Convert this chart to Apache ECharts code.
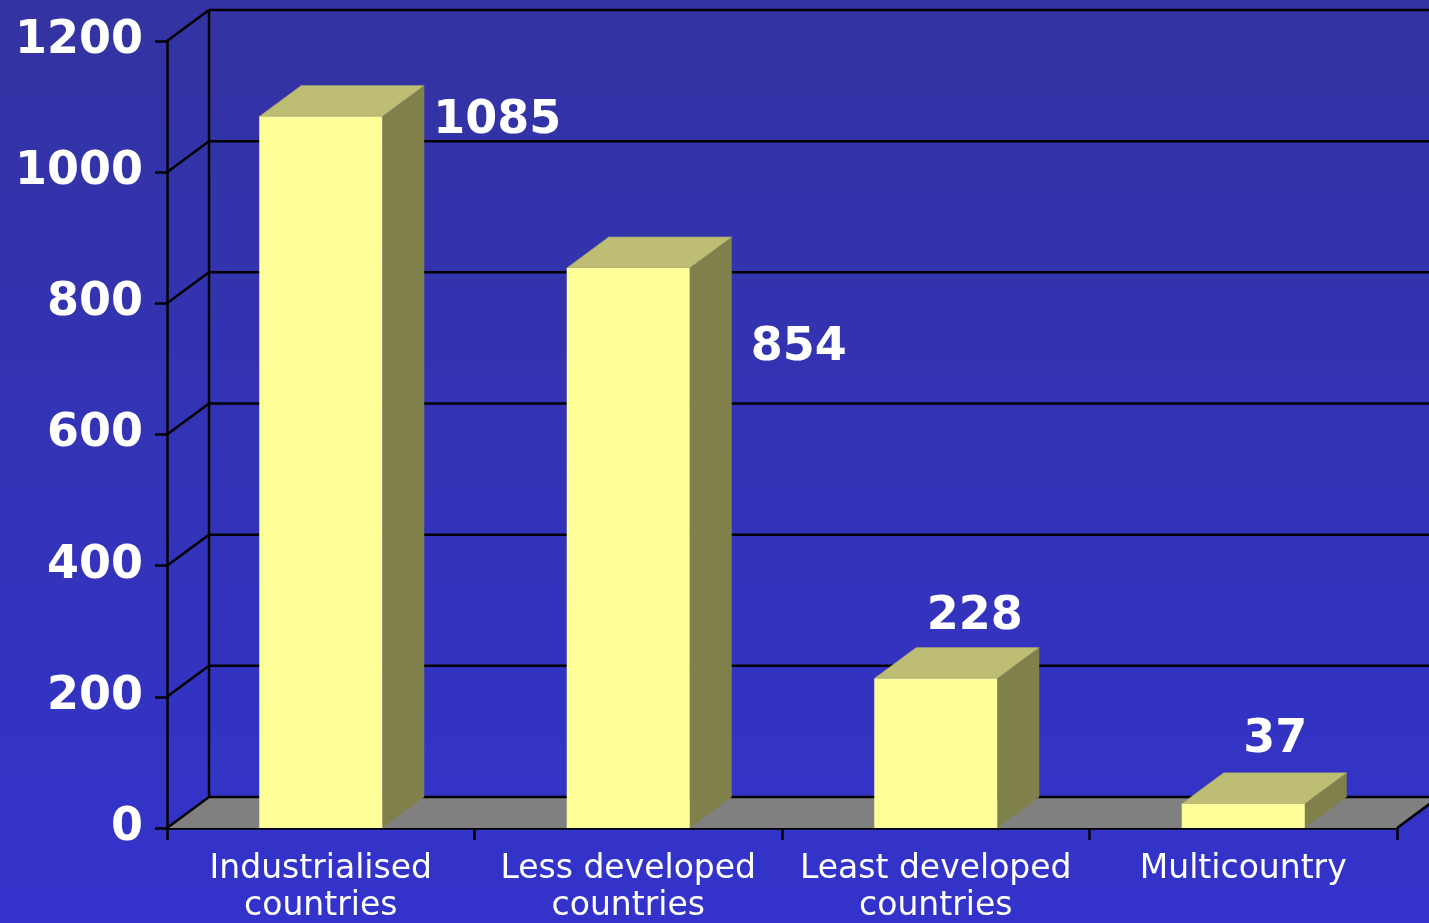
<!DOCTYPE html>
<html>
<head>
<meta charset="utf-8">
<script src="https://cdn.jsdelivr.net/npm/echarts@6/dist/echarts.min.js"></script>
<style>
html,body{margin:0;padding:0;}
#chart{width:1429px;height:923px;}
</style>
</head>
<body>
<div id="chart"></div>
<script>
// ---- data ----
var categories = ['Industrialised\ncountries', 'Less developed\ncountries', 'Least developed\ncountries', 'Multicountry'];
var values = [1085, 854, 228, 37];
var yTicks = [0, 200, 400, 600, 800, 1000, 1200];

// ---- style config (not data) ----
var DEPTH = [42, -31];
var labelPlacement = [
  {anchor: 'side', ox: 9, oy: 5},
  {anchor: 'side', ox: 19, oy: 80},
  {anchor: 'above', ox: -3, oy: -30},
  {anchor: 'above', ox: -10, oy: -33}
];

var chart = echarts.init(document.getElementById('chart'));

function frameRender(params, api) {
  var cs = params.coordSys;
  var x0 = cs.x, x1 = cs.x + cs.width;
  var dx = DEPTH[0], dy = DEPTH[1];
  var children = [];
  var yBase = api.coord([0, 0])[1];
  children.push({
    type: 'polygon', z2: 0,
    shape: {points: [[x0, yBase], [x1, yBase], [x1 + dx, yBase + dy], [x0 + dx, yBase + dy]]},
    style: {fill: '#808080', stroke: null}
  });
  var lineStyle = {stroke: '#000', lineWidth: 2.5};
  children.push({type: 'line', z2: 5, shape: {x1: x1, y1: yBase, x2: x1 + dx, y2: yBase + dy}, style: lineStyle});
  var yTop = api.coord([0, yTicks[yTicks.length - 1]])[1];
  children.push({type: 'line', z2: 5, shape: {x1: x0 + dx, y1: yTop + dy, x2: x0 + dx, y2: yBase + dy}, style: lineStyle});
  yTicks.forEach(function (v) {
    var y = api.coord([0, v])[1];
    children.push({type: 'line', z2: 5, shape: {x1: x0, y1: y, x2: x0 + dx, y2: y + dy}, style: lineStyle});
    children.push({type: 'line', z2: 5, shape: {x1: x0 + dx, y1: y + dy, x2: x1 + dx + 40, y2: y + dy}, style: lineStyle});
  });
  return {type: 'group', children: children};
}

function barRender(params, api) {
  var idx = api.value(0);
  var val = api.value(1);
  var base = api.coord([idx, 0]);
  var top = api.coord([idx, val]);
  var w = api.size([1, 0])[0] * 0.4;
  var cx = base[0];
  var L = cx - w / 2, R = cx + w / 2;
  var yb = base[1], yt = top[1];
  var dx = DEPTH[0], dy = DEPTH[1];
  var children = [
    {type: 'polygon', shape: {points: [[R, yt], [R + dx, yt + dy], [R + dx, yb + dy], [R, yb]]},
     style: {fill: '#80804b'}},
    {type: 'polygon', shape: {points: [[L, yt], [R, yt], [R + dx, yt + dy], [L + dx, yt + dy]]},
     style: {fill: '#bdbd73', stroke: '#a0a070', lineWidth: 0.5}},
    {type: 'rect', shape: {x: L, y: yt, width: w, height: yb - yt},
     style: {fill: '#ffff99'}}
  ];
  var p = labelPlacement[params.dataIndex];
  var txt = {type: 'text', z2: 20, style: {
    text: String(val), fill: '#ffffff', fontFamily: 'DejaVu Sans', fontWeight: 'bold', fontSize: 46,
    verticalAlign: 'middle'
  }};
  if (p.anchor === 'side') {
    txt.style.x = R + dx + p.ox; txt.style.y = yt + p.oy; txt.style.align = 'left';
  } else {
    txt.style.x = cx + dx + p.ox; txt.style.y = yt + dy + p.oy; txt.style.align = 'center';
  }
  children.push(txt);
  return {type: 'group', children: children};
}

var option = {
  backgroundColor: {
    type: 'linear', x: 0, y: 0, x2: 0, y2: 1,
    colorStops: [{offset: 0, color: '#3333a2'}, {offset: 1, color: '#3333cc'}]
  },
  animation: false,
  grid: {left: 167, right: 32, top: 41, bottom: 95, containLabel: false, outerBoundsMode: 'none'},
  xAxis: {
    type: 'category',
    data: categories,
    axisLine: {lineStyle: {color: '#000', width: 2.5}},
    axisTick: {show: true, length: 12, lineStyle: {color: '#000', width: 2.5}},
    axisLabel: {
      color: '#ffffff', fontFamily: 'DejaVu Sans', fontSize: 33, lineHeight: 37, margin: 23, interval: 0
    }
  },
  yAxis: {
    type: 'value', min: 0, max: 1200, interval: 200,
    splitLine: {show: false},
    axisLine: {show: true, lineStyle: {color: '#000', width: 2.5}},
    axisTick: {show: true, length: 12, lineStyle: {color: '#000', width: 2.5}},
    axisLabel: {
      color: '#ffffff', fontFamily: 'DejaVu Sans', fontWeight: 'bold', fontSize: 46, margin: 24,
      padding: [6, 0, 0, 0],
      formatter: function (v) { return String(v); }
    }
  },
  series: [
    {
      type: 'custom', z: 1, silent: true,
      renderItem: frameRender,
      data: [[0, 0]],
      clip: false
    },
    {
      type: 'custom', z: 3,
      renderItem: barRender,
      encode: {x: 0, y: 1},
      data: values.map(function (v, i) { return [i, v]; }),
      clip: false
    }
  ]
};
chart.setOption(option);
</script>
</body>
</html>
